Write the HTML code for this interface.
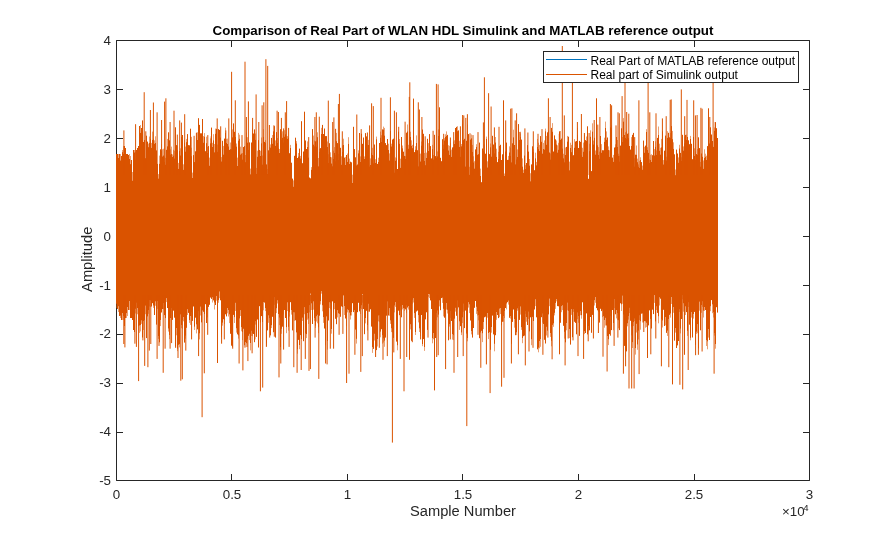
<!DOCTYPE html>
<html><head><meta charset="utf-8"><style>html,body{margin:0;padding:0;background:#fff;overflow:hidden}svg{display:block;will-change:transform}</style></head>
<body><svg width="895" height="540" viewBox="0 0 895 540"><rect x="0" y="0" width="895" height="540" fill="#fff"/><path d="M116.5 480.5H809.5V40.5H116.5Z" fill="none" stroke="#262626" stroke-width="1"/><path d="M116.50 480.5v-6.5M116.50 40.5v6.5M231.50 480.5v-6.5M231.50 40.5v6.5M347.50 480.5v-6.5M347.50 40.5v6.5M462.50 480.5v-6.5M462.50 40.5v6.5M578.50 480.5v-6.5M578.50 40.5v6.5M694.50 480.5v-6.5M694.50 40.5v6.5M809.50 480.5v-6.5M809.50 40.5v6.5M116.5 480.50h6.5M809.5 480.50h-6.5M116.5 432.50h6.5M809.5 432.50h-6.5M116.5 383.50h6.5M809.5 383.50h-6.5M116.5 334.50h6.5M809.5 334.50h-6.5M116.5 285.50h6.5M809.5 285.50h-6.5M116.5 236.50h6.5M809.5 236.50h-6.5M116.5 187.50h6.5M809.5 187.50h-6.5M116.5 138.50h6.5M809.5 138.50h-6.5M116.5 89.50h6.5M809.5 89.50h-6.5M116.5 40.50h6.5M809.5 40.50h-6.5" stroke="#262626" stroke-width="1" fill="none"/><path d="M116.5 154.0V303.9M117.5 154.0V309.0M118.5 157.8V306.5M119.5 154.0V316.0M120.5 160.3V315.8M121.5 156.0V320.0M122.5 152.1V313.2M123.5 153.8V316.1M124.5 146.0V326.0M125.5 148.0V318.0M126.5 154.0V313.3M127.5 154.0V307.1M128.5 155.0V310.0M129.5 158.8V301.2M130.5 164.1V318.0M131.5 160.0V318.0M132.5 180.5V320.0M133.5 150.0V330.0M134.5 152.3V332.0M135.5 159.3V308.9M136.5 150.0V302.7M137.5 148.0V308.1M138.5 146.0V326.2M139.5 126.0V325.7M140.5 132.7V325.0M141.5 128.0V320.6M142.5 148.6V337.5M143.5 142.0V321.2M144.5 140.0V320.1M145.5 158.2V305.8M146.5 135.7V338.1M147.5 141.6V316.4M148.5 147.1V310.3M149.5 142.7V300.4M150.5 138.9V300.6M151.5 147.7V306.5M152.5 140.0V303.2M153.5 138.8V305.7M154.5 143.6V315.0M155.5 143.0V301.6M156.5 150.4V324.6M157.5 163.9V301.3M158.5 178.4V336.1M159.5 163.6V342.3M160.5 149.3V320.1M161.5 150.9V312.5M162.5 156.3V309.0M163.5 155.3V303.1M164.5 161.7V315.1M165.5 164.5V318.1M166.5 149.8V298.4M167.5 146.2V308.0M168.5 132.3V328.7M169.5 140.3V335.0M170.5 154.4V318.0M171.5 153.7V308.0M172.5 156.9V319.9M173.5 155.5V310.7M174.5 158.3V317.7M175.5 127.3V346.4M176.5 145.1V328.0M177.5 150.0V348.8M178.5 168.7V344.8M179.5 151.1V344.4M180.5 155.3V314.4M181.5 137.0V325.0M182.5 135.0V320.4M183.5 169.6V317.1M184.5 142.5V342.6M185.5 151.4V335.8M186.5 142.1V327.8M187.5 134.1V309.4M188.5 145.1V312.9M189.5 145.3V320.0M190.5 128.7V316.1M191.5 156.1V312.4M192.5 177.8V320.9M193.5 155.1V306.5M194.5 162.1V326.8M195.5 151.3V317.7M196.5 138.0V324.6M197.5 139.9V329.4M198.5 147.3V311.2M199.5 124.9V333.6M200.5 133.3V306.8M201.5 133.3V322.4M202.5 152.2V310.4M203.5 142.5V311.8M204.5 136.5V314.0M205.5 151.2V304.2M206.5 143.1V323.0M207.5 152.9V310.2M208.5 146.1V306.9M209.5 165.5V304.8M210.5 143.2V297.6M211.5 127.6V298.9M212.5 146.8V297.5M213.5 140.2V300.4M214.5 152.2V302.7M215.5 133.5V305.0M216.5 128.8V296.0M217.5 151.6V301.4M218.5 129.1V300.4M219.5 129.9V291.7M220.5 137.6V300.3M221.5 161.3V334.7M222.5 140.8V322.8M223.5 154.4V319.2M224.5 138.6V320.2M225.5 132.8V314.3M226.5 142.8V316.4M227.5 143.9V308.1M228.5 146.5V310.2M229.5 149.9V314.6M230.5 149.1V333.8M231.5 149.4V345.7M232.5 137.2V346.8M233.5 123.4V314.9M234.5 131.8V317.4M235.5 137.0V302.9M236.5 146.4V328.5M237.5 165.9V334.4M238.5 140.4V335.6M239.5 138.5V318.4M240.5 154.4V310.4M241.5 153.6V327.4M242.5 159.4V332.1M243.5 147.0V328.8M244.5 146.1V345.5M245.5 162.1V342.3M246.5 136.6V343.5M247.5 142.4V339.7M248.5 149.9V335.8M249.5 142.4V333.9M250.5 174.2V343.1M251.5 142.5V330.9M252.5 133.0V333.6M253.5 133.5V334.0M254.5 129.4V342.2M255.5 139.6V321.4M256.5 173.7V336.9M257.5 156.5V319.5M258.5 140.1V347.5M259.5 150.0V306.2M260.5 156.0V322.4M261.5 143.2V316.1M262.5 164.4V322.0M263.5 136.7V302.2M264.5 141.9V302.6M265.5 142.5V308.2M266.5 164.4V343.7M267.5 173.9V330.4M268.5 150.3V315.6M269.5 153.3V318.1M270.5 147.4V335.4M271.5 137.9V325.4M272.5 143.5V316.8M273.5 131.2V332.2M274.5 134.7V297.3M275.5 145.6V337.6M276.5 132.1V308.5M277.5 142.7V300.5M278.5 148.3V314.0M279.5 153.0V317.8M280.5 129.2V347.3M281.5 140.0V328.9M282.5 137.5V326.7M283.5 142.3V310.8M284.5 136.5V310.0M285.5 134.3V318.0M286.5 138.2V327.4M287.5 138.6V302.6M288.5 137.6V326.9M289.5 153.2V312.4M290.5 147.8V302.2M291.5 162.7V310.2M292.5 178.6V330.4M293.5 186.5V312.2M294.5 155.8V312.6M295.5 137.7V320.3M296.5 143.3V332.4M297.5 158.0V349.5M298.5 156.4V339.9M299.5 148.6V345.2M300.5 158.3V335.1M301.5 160.6V339.1M302.5 163.2V317.8M303.5 151.5V341.2M304.5 141.2V307.4M305.5 140.5V333.4M306.5 149.0V334.4M307.5 147.0V313.1M308.5 157.6V318.7M309.5 177.5V305.4M310.5 178.3V293.7M311.5 169.6V303.6M312.5 129.1V324.0M313.5 144.4V301.6M314.5 146.2V318.0M315.5 141.3V325.8M316.5 146.5V316.5M317.5 137.1V314.9M318.5 166.2V327.5M319.5 151.7V315.7M320.5 148.1V301.4M321.5 133.9V291.0M322.5 124.9V305.5M323.5 134.0V317.3M324.5 128.5V328.5M325.5 136.1V340.4M326.5 136.1V316.4M327.5 146.8V341.2M328.5 162.8V320.5M329.5 143.2V302.5M330.5 156.9V302.9M331.5 163.3V329.1M332.5 166.3V301.4M333.5 158.9V309.7M334.5 152.7V303.3M335.5 161.2V318.8M336.5 141.1V324.2M337.5 143.1V310.4M338.5 159.9V313.3M339.5 143.5V313.9M340.5 147.8V316.8M341.5 164.5V306.4M342.5 151.7V307.0M343.5 145.0V295.4M344.5 157.6V306.3M345.5 164.9V318.5M346.5 155.0V317.5M347.5 161.7V309.5M348.5 143.7V310.1M349.5 164.0V312.6M350.5 161.7V315.7M351.5 162.3V312.1M352.5 183.0V303.2M353.5 155.8V312.1M354.5 149.1V310.1M355.5 157.3V329.6M356.5 165.4V338.9M357.5 164.5V312.2M358.5 153.2V302.8M359.5 160.0V311.4M360.5 161.9V308.5M361.5 133.7V305.5M362.5 143.8V294.1M363.5 137.5V309.0M364.5 158.9V334.2M365.5 133.1V318.1M366.5 136.4V310.8M367.5 149.4V325.1M368.5 145.0V303.9M369.5 166.6V311.7M370.5 165.0V309.3M371.5 152.8V326.6M372.5 154.7V347.3M373.5 163.2V348.9M374.5 144.5V333.9M375.5 162.7V348.0M376.5 139.2V350.1M377.5 163.9V339.1M378.5 162.0V315.7M379.5 143.0V315.4M380.5 137.5V331.8M381.5 141.8V329.2M382.5 129.4V335.4M383.5 129.4V338.5M384.5 135.4V340.8M385.5 143.1V337.6M386.5 145.1V315.7M387.5 139.0V301.4M388.5 150.0V315.5M389.5 160.3V308.3M390.5 131.0V320.6M391.5 146.3V328.5M392.5 139.5V332.4M393.5 138.7V337.9M394.5 172.7V305.7M395.5 160.5V302.3M396.5 158.4V341.6M397.5 169.0V345.5M398.5 131.7V310.7M399.5 143.5V315.2M400.5 167.6V306.7M401.5 137.0V317.3M402.5 148.2V305.0M403.5 151.7V308.2M404.5 155.9V308.6M405.5 158.9V309.4M406.5 132.7V305.5M407.5 131.3V307.5M408.5 148.5V306.3M409.5 119.6V349.3M410.5 136.7V324.5M411.5 145.6V340.8M412.5 148.1V299.9M413.5 143.0V298.4M414.5 152.1V313.4M415.5 149.5V332.1M416.5 142.9V311.5M417.5 150.2V310.6M418.5 166.4V315.3M419.5 153.9V328.6M420.5 161.3V333.2M421.5 145.4V315.0M422.5 129.5V344.0M423.5 138.8V339.1M424.5 160.9V347.0M425.5 165.2V319.4M426.5 157.8V312.3M427.5 138.8V329.9M428.5 151.0V294.2M429.5 134.1V294.5M430.5 146.1V300.4M431.5 158.4V309.0M432.5 149.1V338.4M433.5 159.3V333.0M434.5 134.8V339.8M435.5 156.1V338.0M436.5 157.9V313.3M437.5 156.2V310.7M438.5 135.8V314.6M439.5 151.0V300.6M440.5 157.8V310.2M441.5 161.2V298.1M442.5 139.2V297.8M443.5 148.5V308.9M444.5 140.3V317.7M445.5 136.6V316.5M446.5 136.0V303.0M447.5 134.9V309.9M448.5 150.3V340.3M449.5 154.7V324.3M450.5 150.7V311.0M451.5 156.7V321.0M452.5 147.4V334.3M453.5 147.0V335.3M454.5 144.0V318.7M455.5 128.0V307.9M456.5 126.9V315.8M457.5 131.1V300.7M458.5 130.4V307.4M459.5 147.0V321.6M460.5 156.8V326.2M461.5 146.2V332.7M462.5 123.7V317.6M463.5 140.1V303.8M464.5 138.8V328.1M465.5 166.6V310.6M466.5 140.8V333.6M467.5 132.9V338.0M468.5 134.1V302.4M469.5 174.6V304.6M470.5 139.6V320.5M471.5 138.2V331.2M472.5 151.8V321.4M473.5 162.3V328.0M474.5 168.4V307.8M475.5 149.4V301.0M476.5 146.8V306.9M477.5 154.8V311.4M478.5 154.2V315.1M479.5 142.6V338.2M480.5 175.8V332.5M481.5 182.2V330.8M482.5 148.5V333.5M483.5 150.7V322.1M484.5 152.1V317.3M485.5 153.7V316.7M486.5 138.7V320.3M487.5 167.3V313.2M488.5 153.1V333.2M489.5 154.1V332.1M490.5 147.2V349.8M491.5 156.7V327.0M492.5 135.8V315.6M493.5 144.5V334.4M494.5 153.4V343.9M495.5 142.3V335.2M496.5 156.7V312.0M497.5 162.1V315.0M498.5 159.0V318.1M499.5 145.9V308.8M500.5 144.8V308.0M501.5 160.0V325.2M502.5 154.3V321.8M503.5 169.6V316.2M504.5 175.9V311.2M505.5 151.5V308.0M506.5 142.6V303.7M507.5 159.9V302.2M508.5 159.5V300.8M509.5 152.3V317.8M510.5 155.6V316.1M511.5 162.4V343.8M512.5 143.3V321.9M513.5 137.2V309.5M514.5 145.0V319.2M515.5 164.4V335.2M516.5 159.5V332.5M517.5 156.8V308.6M518.5 124.1V306.4M519.5 139.8V319.9M520.5 136.7V306.7M521.5 139.6V327.4M522.5 166.4V338.2M523.5 173.0V336.2M524.5 155.6V335.6M525.5 169.0V311.1M526.5 163.0V317.0M527.5 145.1V325.0M528.5 151.6V311.8M529.5 165.4V331.4M530.5 181.2V317.3M531.5 164.4V339.5M532.5 146.3V316.9M533.5 151.8V321.0M534.5 170.2V309.5M535.5 158.2V299.5M536.5 165.2V317.3M537.5 146.9V349.3M538.5 149.1V347.8M539.5 150.9V341.1M540.5 136.1V339.0M541.5 141.8V317.2M542.5 153.7V313.7M543.5 148.9V324.0M544.5 149.4V339.8M545.5 131.2V343.5M546.5 144.5V326.9M547.5 132.3V330.7M548.5 130.7V314.4M549.5 152.5V298.8M550.5 159.4V333.2M551.5 127.9V340.9M552.5 131.5V324.9M553.5 151.5V323.6M554.5 135.4V312.9M555.5 139.3V303.1M556.5 144.3V299.1M557.5 152.4V306.1M558.5 149.5V306.3M559.5 131.3V301.6M560.5 139.6V322.8M561.5 138.6V306.4M562.5 148.6V305.5M563.5 158.2V325.8M564.5 162.3V331.9M565.5 154.9V342.3M566.5 146.9V323.1M567.5 141.4V302.8M568.5 136.7V310.9M569.5 170.2V329.2M570.5 147.7V344.6M571.5 152.1V309.4M572.5 155.6V337.2M573.5 155.2V309.3M574.5 147.5V321.8M575.5 141.5V322.9M576.5 141.0V334.3M577.5 134.5V312.7M578.5 148.0V316.0M579.5 140.9V335.9M580.5 141.9V311.3M581.5 154.9V315.4M582.5 156.6V302.3M583.5 151.5V309.8M584.5 141.9V331.1M585.5 140.1V333.0M586.5 140.9V313.4M587.5 159.7V334.4M588.5 178.8V326.2M589.5 151.1V330.3M590.5 136.5V317.0M591.5 171.1V332.8M592.5 131.4V314.9M593.5 144.3V320.3M594.5 137.8V300.4M595.5 154.4V297.2M596.5 157.3V308.1M597.5 145.3V310.3M598.5 155.0V311.8M599.5 158.5V322.6M600.5 136.0V308.8M601.5 152.5V311.1M602.5 150.2V309.8M603.5 150.3V316.2M604.5 141.6V320.2M605.5 127.8V317.9M606.5 139.6V325.5M607.5 137.5V336.0M608.5 150.0V339.5M609.5 156.7V334.1M610.5 127.4V311.5M611.5 127.5V330.1M612.5 157.6V310.0M613.5 161.6V323.2M614.5 147.5V299.2M615.5 147.1V314.3M616.5 137.0V310.1M617.5 147.0V313.1M618.5 155.7V320.5M619.5 161.4V330.1M620.5 145.6V303.3M621.5 128.3V304.6M622.5 142.0V295.8M623.5 121.4V314.5M624.5 135.0V345.9M625.5 137.8V350.7M626.5 138.8V351.4M627.5 133.7V323.5M628.5 138.1V316.2M629.5 146.0V307.9M630.5 149.6V320.8M631.5 145.8V326.7M632.5 134.8V342.4M633.5 132.9V322.3M634.5 166.4V318.7M635.5 154.7V348.3M636.5 154.5V323.9M637.5 162.1V344.7M638.5 166.6V330.8M639.5 167.8V315.5M640.5 159.9V321.5M641.5 162.1V313.7M642.5 169.5V313.7M643.5 140.6V322.4M644.5 152.5V321.1M645.5 145.6V321.6M646.5 132.0V322.9M647.5 149.9V312.2M648.5 152.9V325.4M649.5 162.9V310.4M650.5 159.8V318.9M651.5 161.8V328.5M652.5 155.2V309.7M653.5 141.0V314.1M654.5 155.3V295.3M655.5 146.6V321.4M656.5 154.8V306.5M657.5 137.9V312.9M658.5 135.0V316.5M659.5 150.5V297.5M660.5 154.4V298.7M661.5 147.2V319.0M662.5 131.3V320.7M663.5 164.3V309.8M664.5 150.7V326.0M665.5 135.6V317.3M666.5 160.3V332.9M667.5 137.6V330.8M668.5 132.8V319.0M669.5 137.3V314.9M670.5 137.9V313.7M671.5 126.1V297.0M672.5 139.1V298.2M673.5 148.7V307.0M674.5 154.3V340.7M675.5 175.1V328.0M676.5 149.6V348.0M677.5 153.5V345.4M678.5 162.5V341.0M679.5 148.3V309.5M680.5 152.9V328.8M681.5 160.8V319.0M682.5 134.8V295.4M683.5 150.4V303.5M684.5 143.2V354.8M685.5 134.9V306.6M686.5 139.8V312.1M687.5 137.0V330.9M688.5 140.3V302.5M689.5 144.2V324.7M690.5 138.9V337.9M691.5 143.8V312.1M692.5 159.2V337.5M693.5 137.0V314.1M694.5 155.7V311.9M695.5 160.0V344.9M696.5 154.1V331.8M697.5 154.7V324.3M698.5 137.3V348.4M699.5 148.1V301.8M700.5 166.4V330.3M701.5 153.5V305.1M702.5 156.8V301.5M703.5 168.6V310.8M704.5 157.7V307.1M705.5 156.5V310.0M706.5 159.9V340.2M707.5 146.1V341.6M708.5 157.1V329.1M709.5 143.5V317.7M710.5 127.3V306.5M711.5 134.5V300.1M712.5 141.0V304.6M713.5 146.9V312.2M714.5 130.6V333.0M715.5 122.3V344.0M716.5 128.2V307.2M717.5 138.0V312.6" stroke="#DA5300" stroke-width="1" fill="none"/><path d="M116.5 303.9V308.0M118.5 154.0V157.8M118.5 306.5V312.0M120.5 154.0V160.3M120.5 315.8V318.0M122.5 150.0V152.1M122.5 313.2V320.0M123.5 146.0V153.8M123.5 316.1V320.0M126.5 313.3V318.0M127.5 307.1V316.0M129.5 154.0V158.8M129.5 301.2V310.0M130.5 156.0V164.1M132.5 172.0V180.5M134.5 150.0V152.3M135.5 152.0V159.3M135.5 308.9V313.5M137.5 308.1V314.3M139.5 325.7V332.9M140.5 125.0V132.7M140.5 325.0V331.4M141.5 320.6V323.9M142.5 140.0V148.6M143.5 321.2V330.0M145.5 305.8V314.2M148.5 143.6V147.1M148.5 310.3V313.8M149.5 136.5V142.7M149.5 300.4V306.5M150.5 300.6V307.0M151.5 142.9V147.7M152.5 131.6V140.0M153.5 305.7V307.9M154.5 140.3V143.6M155.5 136.3V143.0M155.5 301.6V305.8M157.5 301.3V308.9M158.5 174.1V178.4M158.5 336.1V338.9M159.5 155.6V163.6M160.5 320.1V326.1M161.5 144.2V150.9M162.5 149.3V156.3M163.5 148.7V155.3M163.5 303.1V309.1M164.5 156.5V161.7M165.5 157.9V164.5M166.5 298.4V302.1M167.5 138.9V146.2M168.5 328.7V331.6M169.5 335.0V339.1M170.5 149.4V154.4M171.5 146.6V153.7M172.5 154.4V156.9M173.5 149.8V155.5M174.5 150.7V158.3M176.5 328.0V335.3M177.5 145.4V150.0M177.5 348.8V351.1M178.5 162.9V168.7M179.5 344.4V347.4M180.5 148.3V155.3M181.5 325.0V328.2M182.5 320.4V328.8M183.5 164.3V169.6M183.5 317.1V321.3M184.5 140.1V142.5M185.5 146.6V151.4M185.5 335.8V338.7M186.5 138.9V142.1M187.5 309.4V315.0M189.5 320.0V322.9M190.5 316.1V324.9M191.5 147.7V156.1M191.5 312.4V316.6M192.5 172.6V177.8M194.5 326.8V330.0M196.5 132.4V138.0M196.5 324.6V333.4M197.5 132.3V139.9M198.5 142.4V147.3M199.5 333.6V339.4M200.5 306.8V315.5M203.5 136.1V142.5M204.5 133.1V136.5M206.5 136.7V143.1M207.5 147.0V152.9M207.5 310.2V317.4M209.5 157.6V165.5M210.5 138.4V143.2M212.5 142.8V146.8M212.5 297.5V302.5M213.5 134.2V140.2M214.5 144.0V152.2M214.5 302.7V309.5M215.5 128.6V133.5M216.5 296.0V300.6M217.5 144.6V151.6M218.5 300.4V302.8M219.5 291.7V298.2M221.5 157.1V161.3M221.5 334.7V337.2M222.5 322.8V325.7M223.5 145.9V154.4M224.5 320.2V324.0M225.5 127.7V132.8M226.5 138.8V142.8M227.5 138.6V143.9M227.5 308.1V313.3M228.5 310.2V316.5M229.5 314.6V323.1M230.5 142.5V149.1M232.5 129.4V137.2M234.5 317.4V323.0M235.5 302.9V310.9M236.5 143.5V146.4M236.5 328.5V332.6M237.5 157.6V165.9M238.5 132.9V140.4M238.5 335.6V338.6M239.5 134.7V138.5M240.5 146.7V154.4M240.5 310.4V316.0M241.5 327.4V331.3M242.5 153.0V159.4M242.5 332.1V340.1M244.5 345.5V347.7M245.5 155.0V162.1M245.5 342.3V347.6M246.5 132.5V136.6M246.5 343.5V347.1M247.5 137.2V142.4M247.5 339.7V346.9M249.5 333.9V340.1M250.5 168.6V174.2M250.5 343.1V350.4M251.5 330.9V336.0M252.5 128.2V133.0M252.5 333.6V336.2M255.5 133.5V139.6M255.5 321.4V324.6M256.5 167.9V173.7M257.5 150.7V156.5M260.5 150.7V156.0M261.5 137.5V143.2M262.5 155.5V164.4M263.5 129.2V136.7M263.5 302.2V310.3M265.5 140.1V142.5M265.5 308.2V311.1M266.5 343.7V345.9M267.5 169.1V173.9M268.5 315.6V322.8M269.5 147.0V153.3M270.5 144.4V147.4M271.5 325.4V328.1M272.5 135.0V143.5M273.5 125.3V131.2M274.5 127.0V134.7M274.5 297.3V304.8M275.5 140.4V145.6M276.5 308.5V313.1M277.5 138.0V142.7M277.5 300.5V303.5M279.5 149.0V153.0M279.5 317.8V325.1M280.5 347.3V350.1M281.5 133.5V140.0M281.5 328.9V333.8M282.5 131.3V137.5M283.5 133.5V142.3M283.5 310.8V314.5M284.5 130.2V136.5M286.5 136.2V138.2M286.5 327.4V333.2M287.5 136.1V138.6M287.5 302.6V311.1M288.5 326.9V330.6M289.5 312.4V316.6M290.5 144.9V147.8M291.5 310.2V314.6M293.5 180.4V186.5M294.5 312.6V320.8M296.5 141.1V143.3M297.5 349.5V353.7M298.5 153.0V156.4M299.5 345.2V349.2M300.5 155.9V158.3M302.5 317.8V320.9M304.5 307.4V314.2M306.5 334.4V338.1M307.5 141.4V147.0M307.5 313.1V319.7M308.5 318.7V324.0M309.5 305.4V312.4M310.5 293.7V301.3M311.5 167.1V169.6M311.5 303.6V310.0M313.5 135.6V144.4M313.5 301.6V309.7M314.5 140.5V146.2M314.5 318.0V320.8M315.5 325.8V327.9M316.5 140.5V146.5M316.5 316.5V321.5M317.5 132.3V137.1M317.5 314.9V323.3M318.5 158.0V166.2M318.5 327.5V333.1M319.5 148.7V151.7M320.5 301.4V304.5M321.5 127.8V133.9M321.5 291.0V293.7M322.5 305.5V311.3M323.5 317.3V322.9M325.5 340.4V345.3M327.5 141.5V146.8M327.5 341.2V349.6M328.5 154.2V162.8M329.5 302.5V308.0M330.5 152.3V156.9M330.5 302.9V309.1M331.5 157.3V163.3M331.5 329.1V333.7M333.5 150.7V158.9M333.5 309.7V312.5M334.5 147.1V152.7M334.5 303.3V309.2M335.5 155.1V161.2M336.5 132.9V141.1M337.5 310.4V317.4M338.5 153.8V159.9M339.5 139.0V143.5M341.5 156.3V164.5M342.5 145.6V151.7M343.5 138.7V145.0M344.5 306.3V315.0M345.5 156.9V164.9M346.5 317.5V326.2M347.5 153.5V161.7M347.5 309.5V312.4M348.5 137.2V143.7M349.5 158.6V164.0M350.5 315.7V319.5M351.5 312.1V315.5M352.5 174.7V183.0M353.5 151.1V155.8M356.5 338.9V343.6M358.5 150.3V153.2M360.5 156.4V161.9M360.5 308.5V314.0M361.5 305.5V309.2M362.5 294.1V302.7M364.5 156.4V158.9M365.5 318.1V323.4M367.5 144.5V149.4M367.5 325.1V330.5M368.5 139.9V145.0M368.5 303.9V311.7M370.5 158.4V165.0M372.5 147.8V154.7M372.5 347.3V352.9M373.5 155.7V163.2M374.5 333.9V340.5M375.5 159.2V162.7M376.5 136.6V139.2M377.5 339.1V346.5M378.5 157.7V162.0M378.5 315.7V321.4M379.5 315.4V322.1M380.5 131.6V137.5M380.5 331.8V337.3M381.5 135.2V141.8M382.5 335.4V343.6M383.5 126.6V129.4M383.5 338.5V342.5M384.5 127.9V135.4M384.5 340.8V346.8M388.5 143.7V150.0M389.5 153.4V160.3M389.5 308.3V315.8M390.5 320.6V323.9M391.5 143.7V146.3M391.5 328.5V332.1M394.5 305.7V312.4M395.5 157.4V160.5M395.5 302.3V306.9M397.5 345.5V350.3M399.5 139.0V143.5M400.5 158.7V167.6M400.5 306.7V310.3M402.5 145.5V148.2M402.5 305.0V309.4M404.5 308.6V310.9M405.5 156.2V158.9M406.5 305.5V312.9M407.5 124.5V131.3M408.5 144.8V148.5M408.5 306.3V309.6M410.5 131.7V136.7M410.5 324.5V329.4M411.5 140.3V145.6M412.5 144.8V148.1M412.5 299.9V303.8M413.5 298.4V302.5M414.5 313.4V317.9M415.5 146.2V149.5M415.5 332.1V335.0M416.5 135.4V142.9M418.5 315.3V322.4M419.5 151.4V153.9M419.5 328.6V332.0M420.5 153.6V161.3M420.5 333.2V336.0M421.5 141.5V145.4M422.5 344.0V346.2M424.5 153.0V160.9M424.5 347.0V350.9M426.5 152.6V157.8M428.5 143.1V151.0M428.5 294.2V296.8M429.5 294.5V298.1M432.5 144.8V149.1M432.5 338.4V343.3M433.5 155.0V159.3M433.5 333.0V339.3M436.5 313.3V320.2M437.5 151.4V156.2M437.5 310.7V317.3M438.5 129.4V135.8M439.5 145.8V151.0M439.5 300.6V306.4M442.5 297.8V302.9M443.5 144.7V148.5M443.5 308.9V316.4M444.5 138.2V140.3M445.5 134.3V136.6M446.5 131.4V136.0M446.5 303.0V309.6M447.5 309.9V313.5M448.5 145.2V150.3M449.5 145.8V154.7M449.5 324.3V326.6M450.5 142.8V150.7M450.5 311.0V317.9M451.5 149.6V156.7M452.5 334.3V339.6M453.5 141.6V147.0M453.5 335.3V340.1M454.5 140.3V144.0M455.5 307.9V311.6M457.5 126.2V131.1M457.5 300.7V309.4M459.5 140.8V147.0M459.5 321.6V329.9M461.5 144.0V146.2M461.5 332.7V335.1M462.5 120.2V123.7M462.5 317.6V323.1M463.5 303.8V311.7M467.5 124.5V132.9M467.5 338.0V341.3M468.5 302.4V307.6M469.5 166.8V174.6M469.5 304.6V313.1M471.5 134.5V138.2M471.5 331.2V334.4M472.5 144.9V151.8M472.5 321.4V325.4M473.5 156.3V162.3M474.5 161.2V168.4M476.5 144.2V146.8M476.5 306.9V313.9M477.5 311.4V315.5M478.5 315.1V320.4M480.5 168.6V175.8M482.5 333.5V342.1M483.5 322.1V329.1M484.5 144.3V152.1M486.5 136.6V138.7M486.5 320.3V324.6M487.5 161.3V167.3M487.5 313.2V317.7M488.5 333.2V339.1M490.5 143.5V147.2M491.5 327.0V332.7M494.5 343.9V351.3M495.5 137.0V142.3M496.5 148.7V156.7M496.5 312.0V319.8M498.5 151.8V159.0M499.5 308.8V317.2M500.5 308.0V314.1M503.5 164.5V169.6M503.5 316.2V321.7M504.5 173.5V175.9M504.5 311.2V318.1M506.5 303.7V309.4M508.5 155.9V159.5M508.5 300.8V304.6M509.5 146.3V152.3M510.5 147.7V155.6M510.5 316.1V318.6M513.5 129.7V137.2M514.5 319.2V327.7M516.5 332.5V335.1M517.5 149.4V156.8M517.5 308.6V310.7M518.5 306.4V309.9M519.5 132.0V139.8M520.5 133.4V136.7M520.5 306.7V314.6M521.5 327.4V329.9M522.5 158.4V166.4M522.5 338.2V343.2M523.5 169.7V173.0M525.5 165.1V169.0M525.5 311.1V313.9M526.5 317.0V321.7M528.5 311.8V318.9M529.5 159.0V165.4M530.5 173.2V181.2M531.5 339.5V345.2M533.5 148.9V151.8M535.5 152.7V158.2M535.5 299.5V306.1M536.5 161.9V165.2M537.5 138.9V146.9M538.5 142.7V149.1M538.5 347.8V352.3M539.5 144.9V150.9M539.5 341.1V348.3M540.5 339.0V346.8M542.5 313.7V322.6M543.5 142.9V148.9M544.5 140.4V149.4M545.5 128.6V131.2M546.5 135.9V144.5M546.5 326.9V335.5M549.5 298.8V306.2M550.5 153.4V159.4M550.5 333.2V336.9M551.5 340.9V346.3M552.5 123.1V131.5M553.5 323.6V326.8M554.5 312.9V315.4M555.5 303.1V308.9M556.5 140.5V144.3M556.5 299.1V301.4M557.5 145.3V152.4M558.5 142.8V149.5M560.5 131.0V139.6M561.5 306.4V312.2M562.5 305.5V310.1M563.5 153.8V158.2M564.5 331.9V338.6M565.5 147.5V154.9M566.5 323.1V330.3M567.5 135.9V141.4M567.5 302.8V310.3M569.5 161.6V170.2M569.5 329.2V338.1M570.5 142.7V147.7M571.5 144.9V152.1M571.5 309.4V314.9M573.5 309.3V311.9M574.5 139.1V147.5M577.5 127.9V134.5M577.5 312.7V319.1M578.5 316.0V322.8M580.5 311.3V315.2M581.5 146.8V154.9M581.5 315.4V318.7M582.5 147.8V156.6M583.5 142.6V151.5M584.5 134.9V141.9M584.5 331.1V334.1M586.5 136.5V140.9M588.5 326.2V331.5M589.5 143.7V151.1M590.5 130.3V136.5M592.5 123.3V131.4M593.5 140.6V144.3M594.5 300.4V305.5M595.5 150.5V154.4M595.5 297.2V302.8M596.5 152.2V157.3M598.5 147.1V155.0M599.5 151.6V158.5M601.5 144.1V152.5M602.5 309.8V317.1M604.5 137.7V141.6M604.5 320.2V327.7M605.5 121.6V127.8M605.5 317.9V325.5M606.5 131.4V139.6M608.5 146.4V150.0M608.5 339.5V345.1M609.5 150.3V156.7M610.5 311.5V316.2M611.5 125.4V127.5M613.5 154.9V161.6M613.5 323.2V330.2M614.5 299.2V308.1M615.5 144.3V147.1M616.5 310.1V318.4M617.5 140.0V147.0M617.5 313.1V319.8M618.5 153.7V155.7M618.5 320.5V328.3M619.5 155.8V161.4M621.5 304.6V311.0M622.5 137.0V142.0M622.5 295.8V303.8M623.5 118.1V121.4M625.5 132.2V137.8M625.5 350.7V356.7M626.5 131.1V138.8M627.5 323.5V326.3M628.5 133.1V138.1M628.5 316.2V319.6M629.5 307.9V313.1M631.5 137.1V145.8M631.5 326.7V335.4M632.5 342.4V348.0M633.5 322.3V326.1M634.5 158.2V166.4M634.5 318.7V321.0M635.5 348.3V354.6M636.5 145.5V154.5M636.5 323.9V332.5M637.5 158.6V162.1M637.5 344.7V349.8M638.5 164.4V166.6M638.5 330.8V339.5M639.5 160.8V167.8M639.5 315.5V320.1M640.5 157.3V159.9M640.5 321.5V329.7M642.5 165.6V169.5M642.5 313.7V322.5M644.5 146.8V152.5M645.5 321.6V327.7M646.5 129.2V132.0M646.5 322.9V327.1M647.5 147.2V149.9M649.5 159.4V162.9M650.5 154.8V159.8M651.5 154.2V161.8M654.5 149.1V155.3M654.5 295.3V302.9M655.5 141.3V146.6M656.5 150.4V154.8M656.5 306.5V310.0M658.5 126.5V135.0M658.5 316.5V323.3M659.5 143.7V150.5M659.5 297.5V305.5M660.5 147.8V154.4M661.5 138.9V147.2M662.5 320.7V327.5M663.5 160.1V164.3M665.5 317.3V325.3M666.5 156.7V160.3M667.5 131.2V137.6M667.5 330.8V335.9M670.5 133.1V137.9M670.5 313.7V317.6M671.5 297.0V304.0M672.5 130.9V139.1M672.5 298.2V304.8M673.5 142.3V148.7M673.5 307.0V312.8M675.5 169.5V175.1M675.5 328.0V332.6M678.5 157.4V162.5M679.5 144.8V148.3M679.5 309.5V312.0M680.5 328.8V333.4M681.5 157.3V160.8M682.5 295.4V299.3M683.5 146.4V150.4M683.5 303.5V311.7M684.5 136.3V143.2M685.5 306.6V315.0M686.5 134.6V139.8M687.5 330.9V335.9M688.5 302.5V307.0M690.5 135.9V138.9M690.5 337.9V340.3M691.5 312.1V317.6M693.5 314.1V318.6M694.5 148.3V155.7M695.5 151.5V160.0M696.5 331.8V333.9M697.5 149.0V154.7M697.5 324.3V333.2M699.5 301.8V310.7M700.5 161.9V166.4M701.5 305.1V312.8M702.5 301.5V306.8M703.5 160.4V168.6M703.5 310.8V317.5M704.5 149.3V157.7M704.5 307.1V310.9M705.5 153.7V156.5M706.5 155.7V159.9M706.5 340.2V346.0M707.5 341.6V349.3M708.5 329.1V337.6M710.5 306.5V311.2M712.5 304.6V313.2M713.5 312.2V317.5M714.5 127.5V130.6M714.5 333.0V335.6M715.5 344.0V348.7" stroke="#DA5300" stroke-opacity="0.55" stroke-width="1" fill="none"/><path d="M123.9 130.4V175M135.6 124.2V175M142.5 120.4V175M144.2 92.2V175M145.8 131.3V175M150.4 110.0V175M153.4 102.5V175M157.1 112.3V175M161.6 120.0V175M164.6 101.6V175M165.9 98.3V175M170.1 122.0V175M174.0 110.7V175M177.3 134.6V175M179.7 120.4V175M181.4 122.6V175M184.7 114.2V175M191.1 136.8V175M194.1 135.8V175M196.4 133.0V175M198.5 118.2V175M202.5 119.0V175M207.8 135.1V175M211.2 136.3V175M217.2 118.4V175M220.7 126.3V175M225.8 130.4V175M228.8 118.4V175M231.6 71.8V175M235.3 100.3V175M242.0 135.1V175M245.0 61.7V175M246.4 117.0V175M248.4 101.4V175M252.6 117.9V175M256.1 94.4V175M258.8 122.0V175M262.1 105.3V175M263.8 102.3V175M265.9 59.2V175M267.7 65.9V175M269.4 125.0V175M274.4 125.7V175M277.1 110.7V175M278.4 112.0V175M281.4 117.9V175M283.6 128.4V175M285.3 112.3V175M286.6 101.1V175M288.6 127.9V175M301.5 121.2V175M304.5 111.7V175M308.7 137.1V175M314.9 117.0V175M316.3 112.3V175M319.3 116.7V175M322.1 137.1V175M328.3 100.6V175M332.7 122.0V175M333.9 117.4V175M335.6 128.8V175M339.4 93.9V175M338.4 104.0V175M342.3 131.3V175M353.5 126.8V175M356.8 114.5V175M359.5 133.0V175M361.2 129.1V175M367.4 132.5V175M369.6 125.4V175M371.6 103.3V175M373.3 106.1V175M381.0 97.8V175M390.4 97.3V175M394.4 110.7V175M396.4 112.3V175M398.7 126.8V175M405.1 121.7V175M409.8 82.3V175M409.3 96.9V175M413.5 98.6V175M418.3 102.3V175M419.4 109.5V175M421.9 117.0V175M423.5 133.8V175M425.2 136.3V175M433.1 130.8V175M436.4 83.9V175M438.1 84.4V175M439.5 107.3V175M443.7 133.8V175M450.4 137.5V175M453.7 132.1V175M455.7 130.9V175M460.4 126.3V175M462.6 115.0V175M463.8 115.4V175M465.8 117.9V175M467.4 114.2V175M470.0 133.3V175M473.0 135.1V175M478.0 132.1V175M483.4 122.4V175M484.4 77.3V175M488.6 93.2V175M491.1 106.5V175M494.4 127.4V175M499.0 126.8V175M503.5 100.3V175M505.7 120.4V175M510.7 108.7V175M511.9 108.3V175M515.2 120.4V175M516.6 113.3V175M520.2 131.8V175M524.9 128.4V175M527.9 132.5V175M533.3 131.3V175M538.0 133.8V175M542.0 129.1V175M548.4 98.3V175M550.1 117.0V175M559.3 133.8V175M562.3 46.0V175M564.3 115.4V175M572.4 80.0V175M577.4 122.0V175M581.4 114.0V175M584.4 133.0V175M587.5 126.3V175M589.1 133.0V175M594.2 120.0V175M596.5 98.3V175M597.8 124.6V175M599.9 117.0V175M610.4 104.0V175M611.6 105.3V175M616.0 125.4V175M618.0 112.3V175M619.3 113.3V175M622.1 96.1V175M625.0 80.0V175M626.7 112.0V175M628.8 113.7V175M634.7 137.1V175M638.9 100.3V175M648.1 80.0V175M649.8 112.3V175M656.0 113.3V175M662.4 118.4V175M666.2 116.2V175M670.2 99.9V175M671.2 99.4V175M681.3 89.4V175M684.7 116.2V175M687.0 99.9V175M693.7 100.3V175M695.4 115.4V175M697.1 115.0V175M700.9 107.8V175M702.1 108.7V175M708.5 108.3V175M709.8 117.0V175M713.1 80.0V175M715.2 122.0V175M123.8 295V344.0M124.9 295V347.4M134.9 295V343.7M136.4 295V346.9M138.6 295V381.1M142.9 295V340.4M144.7 295V365.9M147.9 295V367.2M149.3 295V350.6M150.8 295V344.0M157.1 295V358.9M159.0 295V345.9M163.2 295V372.8M165.1 295V348.7M170.1 295V348.7M171.6 295V343.1M175.6 295V347.8M178.0 295V358.0M180.8 295V380.7M182.3 295V379.3M185.8 295V350.6M191.6 295V339.4M198.6 295V356.1M202.1 295V417.2M204.3 295V373.3M207.7 295V334.8M217.5 295V363.0M221.6 295V343.7M224.3 295V339.4M232.7 295V348.7M239.1 295V363.5M242.9 295V370.4M247.9 295V361.1M252.1 295V353.3M254.9 295V339.4M260.4 295V391.3M262.7 295V387.6M266.4 295V346.9M269.7 295V337.6M274.3 295V336.7M279.0 295V377.4M280.8 295V363.5M283.6 295V349.6M289.1 295V346.9M293.8 295V367.2M297.1 295V372.8M301.2 295V370.0M305.3 295V358.9M309.0 295V370.9M310.4 295V369.1M315.1 295V337.6M318.8 295V378.9M325.6 295V363.5M327.1 295V364.4M330.3 295V348.7M333.6 295V348.7M339.1 295V334.8M342.9 295V333.9M346.6 295V383.0M349.0 295V373.7M354.9 295V354.8M360.8 295V371.9M362.3 295V356.1M367.9 295V340.4M375.6 295V357.0M379.3 295V347.8M383.0 295V359.8M387.3 295V356.1M392.4 295V442.6M393.8 295V352.4M400.3 295V358.9M404.0 295V391.3M406.7 295V357.0M409.5 295V359.8M412.3 295V342.2M420.6 295V339.4M428.0 295V337.6M434.5 295V390.4M436.7 295V357.0M438.2 295V355.2M445.6 295V369.1M450.3 295V339.4M454.0 295V372.8M457.7 295V357.0M463.2 295V356.1M466.8 295V426.1M472.5 295V337.6M478.0 295V334.8M480.8 295V367.8M486.4 295V364.4M490.1 295V393.1M495.6 295V332.0M501.6 295V386.7M504.0 295V377.8M511.4 295V363.5M518.4 295V354.3M525.3 295V365.4M529.0 295V351.5M533.0 295V347.8M542.9 295V354.8M547.9 295V337.6M552.1 295V359.3M559.5 295V354.3M565.1 295V365.4M568.2 295V338.5M573.0 295V340.4M578.0 295V356.1M583.6 295V358.9M588.2 295V341.3M593.4 295V338.5M598.4 295V333.0M603.0 295V356.7M607.1 295V371.5M610.4 295V335.7M614.1 295V345.9M617.9 295V337.6M623.4 295V373.7M625.6 295V366.3M629.0 295V388.5M631.7 295V388.5M634.1 295V388.5M639.1 295V374.1M643.8 295V332.0M647.5 295V358.0M650.8 295V354.3M655.8 295V338.5M661.4 295V366.3M668.8 295V367.2M672.5 295V384.4M679.9 295V384.8M682.7 295V389.4M688.2 295V370.0M695.6 295V355.2M698.4 295V354.8M702.1 295V351.5M709.5 295V340.0M714.1 295V373.7" stroke="#DA5300" stroke-width="1" fill="none"/><g style="font-family:'Liberation Sans',sans-serif;font-size:13.33px" fill="#262626"><text x="116.50" y="499" text-anchor="middle">0</text><text x="232.00" y="499" text-anchor="middle">0.5</text><text x="347.50" y="499" text-anchor="middle">1</text><text x="463.00" y="499" text-anchor="middle">1.5</text><text x="578.50" y="499" text-anchor="middle">2</text><text x="694.00" y="499" text-anchor="middle">2.5</text><text x="809.50" y="499" text-anchor="middle">3</text><text x="111" y="485.10" text-anchor="end">-5</text><text x="111" y="436.21" text-anchor="end">-4</text><text x="111" y="387.32" text-anchor="end">-3</text><text x="111" y="338.43" text-anchor="end">-2</text><text x="111" y="289.54" text-anchor="end">-1</text><text x="111" y="240.66" text-anchor="end">0</text><text x="111" y="191.77" text-anchor="end">1</text><text x="111" y="142.88" text-anchor="end">2</text><text x="111" y="93.99" text-anchor="end">3</text><text x="111" y="45.10" text-anchor="end">4</text></g><text x="782" y="516" style="font-family:'Liberation Sans',sans-serif;font-size:13.33px" fill="#262626">×10</text><text x="803.2" y="511.2" style="font-family:'Liberation Sans',sans-serif;font-size:9.6px" fill="#262626">4</text><text x="463" y="35" text-anchor="middle" style="font-family:'Liberation Sans',sans-serif;font-size:13.33px;font-weight:bold" fill="#000">Comparison of Real Part of WLAN HDL Simulink and MATLAB reference output</text><text x="463" y="516" text-anchor="middle" style="font-family:'Liberation Sans',sans-serif;font-size:14.67px" fill="#262626">Sample Number</text><text transform="translate(92 259.3) rotate(-90)" text-anchor="middle" style="font-family:'Liberation Sans',sans-serif;font-size:14.67px" fill="#262626">Amplitude</text><rect x="543.5" y="51.5" width="255" height="31" fill="#fff" stroke="#262626" stroke-width="1"/><path d="M546 59.5H587" stroke="#0072BD" stroke-width="1"/><path d="M546 74.5H587" stroke="#DA5300" stroke-width="1"/><g style="font-family:'Liberation Sans',sans-serif;font-size:12px" fill="#000"><text x="590.5" y="64.6">Real Part of MATLAB reference output</text><text x="590.5" y="79.4">Real part of Simulink output</text></g></svg></body></html>
